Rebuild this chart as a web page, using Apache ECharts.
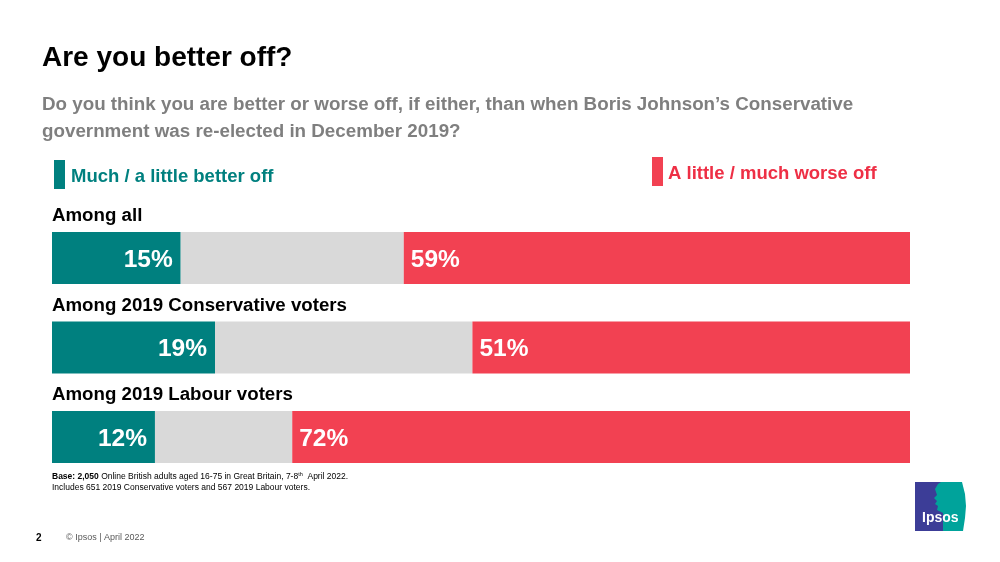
<!DOCTYPE html>
<html>
<head>
<meta charset="utf-8">
<script src="https://cdn.jsdelivr.net/npm/echarts@6/dist/echarts.min.js"></script>
<style>
html,body{margin:0;padding:0;background:#fff;}
#chart{width:1000px;height:562px;}
</style>
</head>
<body>
<div id="chart"></div>
<script>
const categories = ['Among all', 'Among 2019 Conservative voters', 'Among 2019 Labour voters'];
const betterOff = [15, 19, 12];
const neither = [26, 30, 16];
const worseOff = [59, 51, 72];
const legendLabels = ['Much / a little better off', 'A little / much worse off'];

const TEAL = '#00807f';
const RED = '#f24152';
const GREY = '#d9d9d9';
const FONT = 'Liberation Sans, Arial, sans-serif';

const chart = echarts.init(document.getElementById('chart'));
chart.setOption({
  backgroundColor: '#ffffff',
  animation: false,
  grid: { left: 52, right: 90, top: 213.25, height: 268.5, containLabel: false },
  xAxis: { type: 'value', min: 0, max: 100, show: false },
  yAxis: {
    type: 'category', data: categories, inverse: true,
    axisLine: { show: false }, axisTick: { show: false }, splitLine: { show: false },
    axisLabel: { show: false }
  },
  series: [
    {
      type: 'bar', stack: 's', barWidth: 52, data: betterOff,
      itemStyle: { color: TEAL },
      label: { show: true, position: 'insideRight', distance: 8, offset: [0, 2], formatter: '{c}%',
        color: '#fff', fontFamily: FONT, fontWeight: 'bold', fontSize: 24.5 }
    },
    {
      type: 'bar', stack: 's', barWidth: 52, data: neither,
      itemStyle: { color: GREY }
    },
    {
      type: 'bar', stack: 's', barWidth: 52, data: worseOff,
      itemStyle: { color: RED },
      label: { show: true, position: 'insideLeft', distance: 7, offset: [0, 2], formatter: '{c}%',
        color: '#fff', fontFamily: FONT, fontWeight: 'bold', fontSize: 24.5 }
    }
  ],
  graphic: [
    { type: 'text', x: 42, y: 44, style: { text: 'Are you better off?', fill: '#000',
      font: 'bold 28px ' + FONT } },
    { type: 'text', x: 42, y: 91, style: {
      text: 'Do you think you are better or worse off, if either, than when Boris Johnson\u2019s Conservative\ngovernment was re-elected in December 2019?',
      fill: '#7f7f7f', font: 'bold 18.8px ' + FONT, lineHeight: 27 } },
    { type: 'rect', shape: { x: 54, y: 160, width: 11, height: 29 }, style: { fill: TEAL } },
    { type: 'text', x: 71, y: 167, style: { text: legendLabels[0], fill: TEAL, font: 'bold 18.5px ' + FONT } },
    { type: 'rect', shape: { x: 652, y: 157, width: 11, height: 29 }, style: { fill: RED } },
    { type: 'text', x: 668, y: 164, style: { text: legendLabels[1], fill: '#ee2f45', font: 'bold 18.5px ' + FONT } },
    { type: 'text', x: 52, y: 471, style: {
      text: '{b|Base: 2,050} Online British adults aged 16-75 in Great Britain, 7-8{s|th}  April 2022.\nIncludes 651 2019 Conservative voters and 567 2019 Labour voters.',
      fill: '#000', font: '8.5px ' + FONT, lineHeight: 11,
      rich: { b: { fontWeight: 'bold', fontSize: 8.5, fontFamily: FONT }, s: { fontSize: 5.5, verticalAlign: 'top', fontFamily: FONT } } } },
    { type: 'text', x: 36, y: 533, style: { text: '2', fill: '#000', font: 'bold 10px ' + FONT } },
    { type: 'text', x: 66, y: 533, style: { text: '\u00a9 Ipsos | April 2022', fill: '#595959', font: '9px ' + FONT } },
    { type: 'rect', shape: { x: 915, y: 482, width: 28, height: 49 }, style: { fill: '#3c3d97' } },
    { type: 'polygon', shape: { points: [[941,482],[962,482],[965,494],[966,506],[965,518],[963,531],[943,531],[943,513],[937,510],[938,506],[935,504],[937,501],[934,498],[937,495],[935,489],[938,484]] },
      style: { fill: '#00a39b' } },
    { type: 'text', x: 922, y: 511, style: { text: 'Ipsos', fill: '#fff', font: 'bold 14px ' + FONT } }
  ]
});

// Category headings placed above each bar, positioned via the axis scale
const catGraphics = categories.map(function (c, i) {
  const yc = chart.convertToPixel({ yAxisIndex: 0 }, c);
  return { type: 'text', id: 'cat' + i, x: 52, y: yc - 42,
    style: { text: c, fill: '#000', font: 'bold 18.7px ' + FONT, verticalAlign: 'middle', textVerticalAlign: 'middle' } };
});
chart.setOption({ graphic: catGraphics });
</script>
</body>
</html>
